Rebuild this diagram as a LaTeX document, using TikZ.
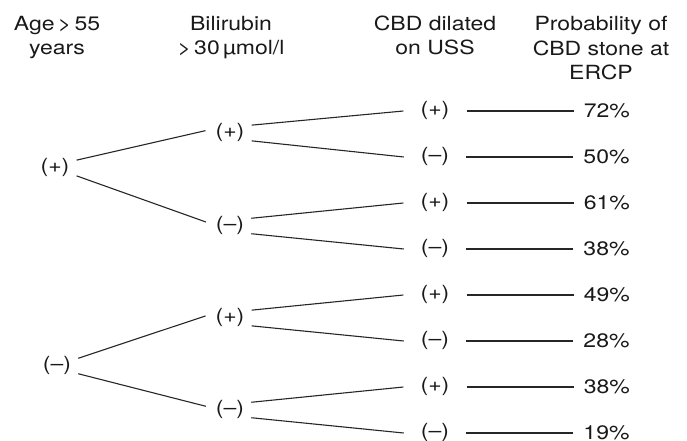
\documentclass[tikz,border=0pt]{standalone}
\usepackage{fontspec}
\setmainfont{TeX Gyre Heros}[FakeStretch=1.18]
\usetikzlibrary{positioning}
\tikzset{
  sign/.style={inner xsep=7pt,inner ysep=2pt,text height=14pt,text depth=4.5pt},
  head/.style={align=center,anchor=base,inner sep=0pt},
  branch/.style={line width=1.1pt,draw=black!85}
}
\begin{document}
\begin{tikzpicture}[x=1pt,y=-1pt,font=\fontsize{19.5}{24.5}\selectfont,text=black!90]
\useasboundingbox (0,0) rectangle (687,441);
% column headings (base = last line)
\node[head] (hage) at (57,55) {Age\,>\,55\\years};
\node[head] (hbil) at (231,55) {Bilirubin\\>\,30\,µmol/l};
\node[head] (hcbd) at (435,55) {CBD dilated\\on USS};
\node[head] (hpro) at (601,80) {Probability of\\CBD stone at\\ERCP};
% age
\path (55,168) node[sign] (a1) {(+)}
  (57,366) node[sign] (a0) {(–)};
% bilirubin
\foreach \n/\y/\sg in {11/133/+,10/226/–,01/318/+,00/410/–}
  \node[sign] (b\n) at (230,\y) {(\sg)};
% dilated duct and probability
\foreach \sg/\v [count=\i] in {+/72,–/50,+/61,–/38,+/49,–/28,+/38,–/19}{
  \node[sign,inner xsep=17pt] (c\i) at (435,65+46*\i) {(\sg)};
  \node[right=107pt of c\i,inner xsep=10pt] (p\i) {\v\%};
  \draw[branch] (c\i) -- (p\i);
}
\foreach \a/\k/\b in {a1/20/b11,a1/-20/b10,a0/20/b01,a0/-20/b00}
  \draw[branch,shorten >=3pt] (\a.\k) -- (\b.172);
\foreach \b/\i/\j in {b11/1/2,b10/3/4,b01/5/6,b00/7/8}{
  \draw[branch] (\b.20) -- (c\i.west);
  \draw[branch] (\b.-20) -- (c\j.west);
}
\end{tikzpicture}
\end{document}
